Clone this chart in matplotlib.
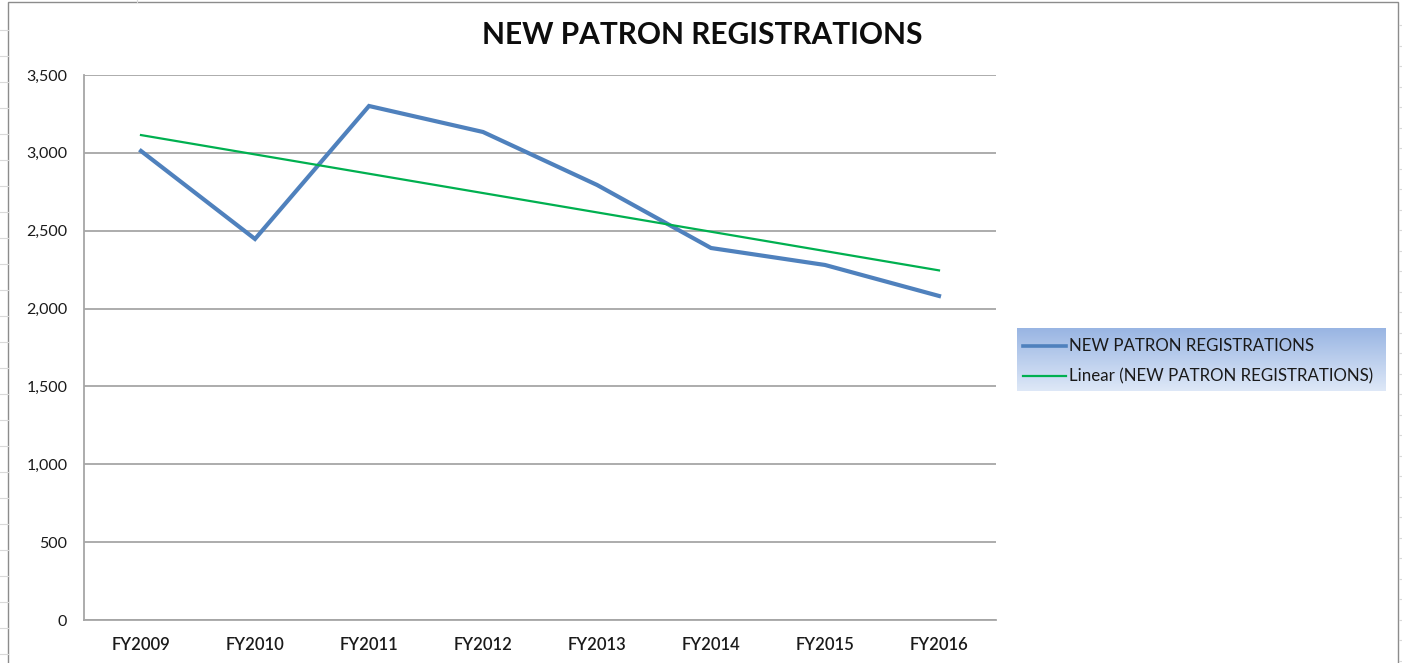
import numpy as np
import matplotlib.pyplot as plt
from matplotlib.patches import Rectangle
from matplotlib.ticker import FuncFormatter, MultipleLocator

# data
years = ['FY2009', 'FY2010', 'FY2011', 'FY2012', 'FY2013', 'FY2014', 'FY2015', 'FY2016']
registrations = [3012, 2447, 3301, 3134, 2794, 2389, 2280, 2081]
series_name = 'NEW PATRON REGISTRATIONS'

W, H = 1402, 663
fig = plt.figure(figsize=(W / 100, H / 100), dpi=100)
fig.patch.set_facecolor('white')

font = ['Lato', 'DejaVu Sans']
plt.rcParams['font.family'] = font

# faint spreadsheet cell lines outside the chart frame
for y in np.arange(30, H, 26):
    fig.add_artist(plt.Line2D([0, 8 / W], [1 - y / H] * 2, color='#d9d9d9', lw=0.8))
for y in np.arange(25, H, 20.5):
    fig.add_artist(plt.Line2D([1399 / W, 1], [1 - y / H] * 2, color='#d9d9d9', lw=0.8))
fig.add_artist(plt.Line2D([137 / W] * 2, [1 - 2 / H, 1], color='#d9d9d9', lw=0.8))

# chart frame
fig.add_artist(Rectangle((8 / W, -0.01), 1390 / W, 1.01 - 2 / H, transform=fig.transFigure,
                         facecolor='none', edgecolor='#8c8c8c', lw=1.0))

ax = fig.add_axes([84 / W, 43 / H, 912 / W, 545 / H])
x = np.arange(len(years))
ax.plot(x, registrations, color='#4F81BD', lw=3.0, solid_joinstyle='miter', zorder=3)

# linear trendline
slope, icpt = np.polyfit(x, registrations, 1)
ax.plot(x, slope * x + icpt, color='#00B050', lw=1.6, zorder=4)

ax.set_xlim(-0.5, len(years) - 0.5)
ax.set_ylim(0, 3500)
ax.yaxis.set_major_locator(MultipleLocator(500))
ax.yaxis.set_major_formatter(FuncFormatter(lambda v, p: f'{int(v):,}'))
ax.set_xticks(x)
ax.set_xticklabels(years)
ax.grid(axis='y', color='#a6a6a6', lw=1.3)
ax.set_axisbelow(True)
for s in ['top', 'right']:
    ax.spines[s].set_visible(False)
for s in ['left', 'bottom']:
    ax.spines[s].set_color('#a6a6a6')
    ax.spines[s].set_linewidth(1.3)
ax.tick_params(axis='y', length=0, colors='#1a1a1a', labelsize=11.5, pad=12)
ax.tick_params(axis='x', length=0, colors='#1a1a1a', labelsize=12, pad=12)
for t in ax.get_xticklabels():
    t.set_fontweight('semibold')

fig.text(702 / W, 1 - 35 / H, series_name, ha='center', va='center',
         fontsize=21.5, fontweight='bold', color='#0d0d0d')

# legend with gradient background
lax = fig.add_axes([1017 / W, 1 - 391 / H, 369 / W, 63 / H])
grad = np.linspace(0, 1, 100)[:, None]
top = np.array([0.60, 0.71, 0.89])
bot = np.array([0.87, 0.91, 0.97])
img = top + (bot - top) * grad[:, :, None]
lax.imshow(img, aspect='auto', extent=[0, 1, 0, 1], origin='upper')
lax.set_xlim(0, 1)
lax.set_ylim(0, 1)
lax.axis('off')
rows = [(series_name, '#4F81BD', 2.6, 0.72),
        (f'Linear ({series_name})', '#00B050', 1.6, 0.24)]
for label, col, lw, yy in rows:
    lax.plot([6 / 369, 49 / 369], [yy, yy], color=col, lw=lw)
    lax.text(52 / 369, yy, label, va='center', ha='left', fontsize=12.2, color='#1a1a1a')

fig.savefig('out.png', dpi=100)
